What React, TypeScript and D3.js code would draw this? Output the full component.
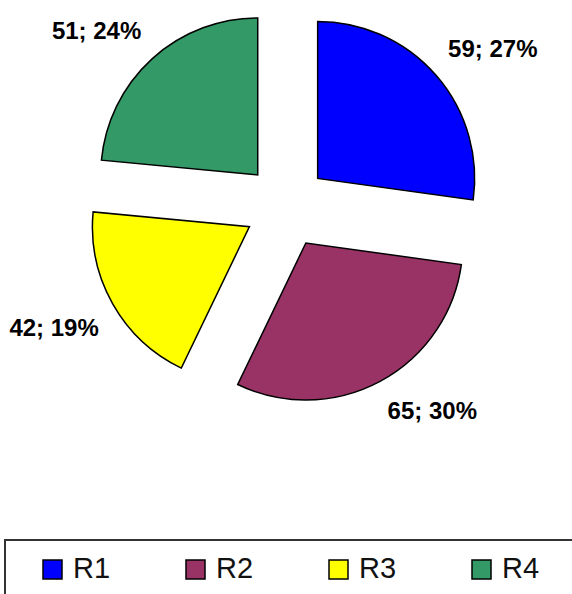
import React, { useEffect, useRef } from 'react';
import * as d3 from 'd3';

const categories = ['R1', 'R2', 'R3', 'R4'];
const values = [59, 65, 42, 51];
const colors = ['#0000FF', '#993366', '#FFFF00', '#339966'];

const width = 572;
const height = 594;

const App: React.FC = () => {
  const svgRef = useRef<SVGSVGElement | null>(null);

  useEffect(() => {
    if (!svgRef.current) return;
    const svg = d3.select(svgRef.current);
    svg.selectAll('*').remove();

    const cx = 286;
    const cy = 206;
    const radius = 157;
    const explode = 42;
    const labelRadius = 215;
    const total = d3.sum(values);

    const pie = d3.pie<number>().sort(null).value(d => d).startAngle(0).endAngle(2 * Math.PI);
    const arcs = pie(values);
    const arc = d3.arc<d3.PieArcDatum<number>>().innerRadius(0).outerRadius(radius);

    const g = svg.append('g').attr('transform', `translate(${cx},${cy})`);

    // slices, pulled out along their middle angle
    g.selectAll('path.slice')
      .data(arcs)
      .enter().append('path')
        .attr('class', 'slice')
        .attr('d', d => arc(d) || '')
        .attr('transform', d => {
          const mid = (d.startAngle + d.endAngle) / 2;
          return `translate(${explode * Math.sin(mid)},${-explode * Math.cos(mid)})`;
        })
        .attr('fill', (_, i) => colors[i])
        .attr('stroke', '#000')
        .attr('stroke-width', 1.5)
        .attr('stroke-linejoin', 'miter');

    // value; percent labels outside each slice
    g.selectAll('text.lbl')
      .data(arcs)
      .enter().append('text')
        .attr('class', 'lbl')
        .attr('x', d => labelRadius * Math.sin((d.startAngle + d.endAngle) / 2))
        .attr('y', d => {
          const mid = (d.startAngle + d.endAngle) / 2;
          const py = -labelRadius * Math.cos(mid);
          return Math.cos(mid) > 0 ? py - 8 : py + 24;
        })
        .attr('text-anchor', d => (Math.sin((d.startAngle + d.endAngle) / 2) >= 0 ? 'start' : 'end'))
        .style('font-family', 'Arial, "Liberation Sans", sans-serif')
        .style('font-weight', 'bold')
        .style('font-size', '24px')
        .style('fill', '#000')
        .text(d => `${d.data}; ${Math.round((d.data / total) * 100)}%`);

    // legend
    svg.append('rect')
      .attr('x', 5)
      .attr('y', 540)
      .attr('width', 580)
      .attr('height', 70)
      .attr('fill', '#fff')
      .attr('stroke', '#333')
      .attr('stroke-width', 2);

    const legendX = d3.scalePoint<string>()
      .domain(categories)
      .range([43, 472]);

    const items = svg.selectAll('g.legend')
      .data(categories)
      .enter().append('g')
        .attr('class', 'legend')
        .attr('transform', d => `translate(${legendX(d)},560)`);

    items.append('rect')
      .attr('width', 19)
      .attr('height', 19)
      .attr('fill', (_, i) => colors[i])
      .attr('stroke', '#000')
      .attr('stroke-width', 1.5);

    items.append('text')
      .attr('x', 30)
      .attr('y', 18)
      .style('font-family', 'Arial, "Liberation Sans", sans-serif')
      .style('font-size', '29px')
      .style('fill', '#111')
      .text(d => d);
  }, []);

  return (
    <svg
      ref={svgRef}
      width={width}
      height={height}
      style={{ position: 'absolute', left: 0, top: 0, background: '#fff' }}
    ></svg>
  );
};

export default App;
